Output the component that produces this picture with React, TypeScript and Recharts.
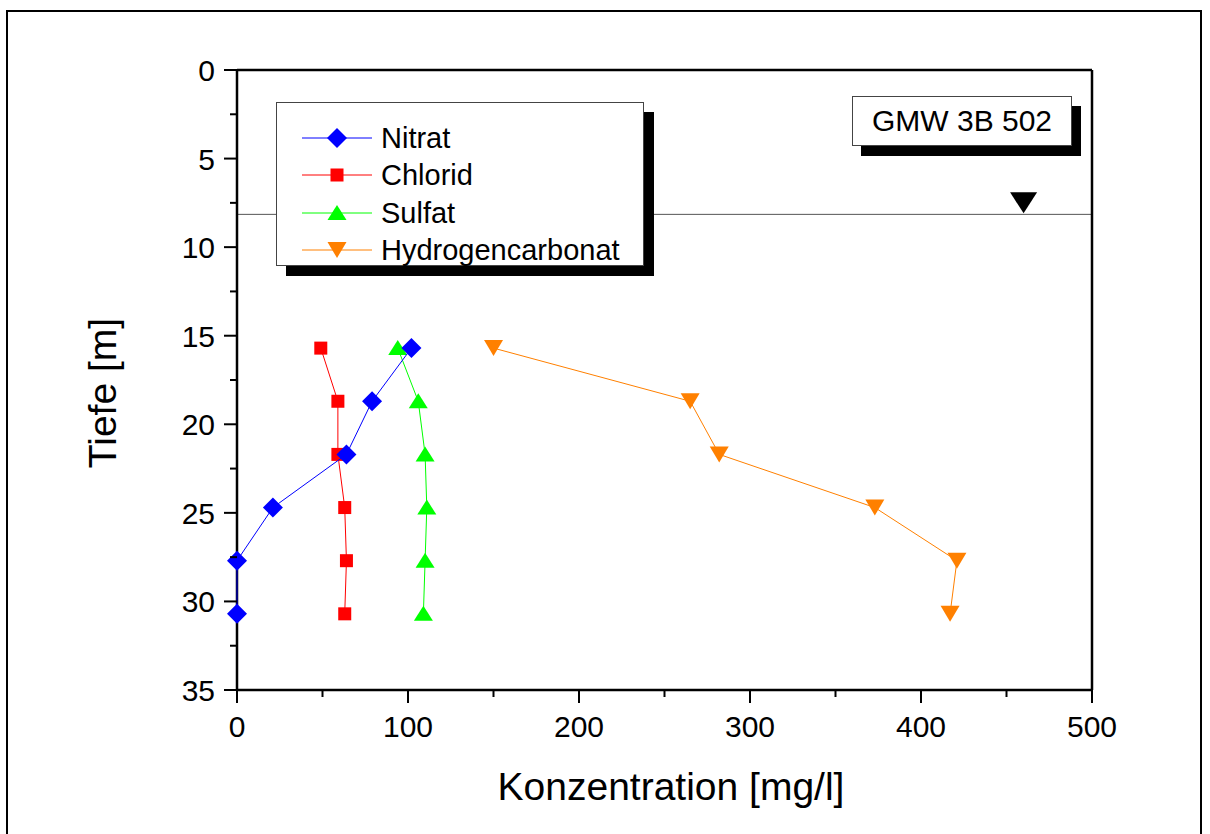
import React from 'react';
import { ScatterChart, Scatter, XAxis, YAxis, ReferenceLine, ReferenceDot } from 'recharts';

// depth of each sample [m] and concentrations [mg/l]
const depths = [15.7, 18.7, 21.7, 24.7, 27.7, 30.7];
const nitrat = [102, 79, 64, 21, 0, 0];
const chlorid = [49, 59, 59, 63, 64, 63];
const sulfat = [94, 106, 110, 111, 110, 109];
const hydrogencarbonat = [150, 265, 282, 373, 421, 417];

const xMajorTicks = [0, 100, 200, 300, 400, 500];
const xMinorTicks = [50, 150, 250, 350, 450];
const yMajorTicks = [0, 5, 10, 15, 20, 25, 30, 35];
const yMinorTicks = [2.5, 7.5, 12.5, 17.5, 22.5, 27.5, 32.5];

const waterLevel = 8.15;
const waterMarkX = 460;
const wellName = 'GMW 3B 502';

const FONT = '"Liberation Sans", Arial, Helvetica, sans-serif';

const series = [
  { name: 'Nitrat', values: nitrat, color: '#0000ff', marker: 'diamond' },
  { name: 'Chlorid', values: chlorid, color: '#ff0000', marker: 'square' },
  { name: 'Sulfat', values: sulfat, color: '#00ff00', marker: 'up' },
  { name: 'Hydrogencarbonat', values: hydrogencarbonat, color: '#ff8000', marker: 'down' },
];

const xTicks = [...xMajorTicks, ...xMinorTicks].sort((a, b) => a - b);
const yTicks = [...yMajorTicks, ...yMinorTicks].sort((a, b) => a - b);

const toPoints = (values: number[]) => values.map((v, i) => ({ x: v, y: depths[i] }));

function Marker({ kind, cx, cy, color }: { kind: string; cx: number; cy: number; color: string }) {
  if (cx == null || cy == null) return null;
  switch (kind) {
    case 'diamond':
      return <polygon points={`${cx},${cy - 10} ${cx + 10},${cy} ${cx},${cy + 10} ${cx - 10},${cy}`} fill={color} />;
    case 'square':
      return <rect x={cx - 6.5} y={cy - 6.5} width={13} height={13} fill={color} />;
    case 'up':
      return <polygon points={`${cx},${cy - 8} ${cx + 9.5},${cy + 7} ${cx - 9.5},${cy + 7}`} fill={color} />;
    default:
      return <polygon points={`${cx - 9.5},${cy - 8} ${cx + 9.5},${cy - 8} ${cx},${cy + 8}`} fill={color} />;
  }
}

const axisLine = { stroke: '#000', strokeWidth: 2.5 };

function LeftTick(props: any) {
  const { x, y, payload } = props;
  const major = yMajorTicks.includes(payload.value);
  return (
    <g>
      <line x1={x} x2={x - (major ? 13 : 7)} y1={y} y2={y} stroke="#000" strokeWidth={2} />
      {major && (
        <text x={x - 22} y={y + 11} textAnchor="end" fontSize={30} fontFamily={FONT} fill="#000">
          {payload.value}
        </text>
      )}
    </g>
  );
}

function RightTick(props: any) {
  const { x, y, payload } = props;
  const major = yMajorTicks.includes(payload.value);
  return <line x1={x} x2={x - (major ? 13 : 7)} y1={y} y2={y} stroke="#000" strokeWidth={2} />;
}

function BottomTick(props: any) {
  const { x, y, payload } = props;
  const major = xMajorTicks.includes(payload.value);
  return (
    <g>
      <line x1={x} x2={x} y1={y} y2={y + (major ? 13 : 7)} stroke="#000" strokeWidth={2} />
      {major && (
        <text x={x} y={y + 47} textAnchor="middle" fontSize={30} fontFamily={FONT} fill="#000">
          {payload.value}
        </text>
      )}
    </g>
  );
}

function TopTick(props: any) {
  const { x, y, payload } = props;
  const major = xMajorTicks.includes(payload.value);
  return <line x1={x} x2={x} y1={y} y2={y + (major ? 12 : 7)} stroke="#000" strokeWidth={2} />;
}

export default function App() {
  return (
    <div style={{ position: 'absolute', left: 0, top: 0, width: 1210, height: 834, overflow: 'hidden', background: '#fff', fontFamily: FONT }}>
      <div style={{ position: 'absolute', left: 6, top: 10, width: 1192, height: 900, border: '2px solid #000' }} />

      <div style={{ position: 'absolute', left: 0, top: 0 }}>
        <ScatterChart width={1210} height={834} margin={{ top: 69, right: 117, bottom: 143, left: 236 }}>
          <XAxis xAxisId="b" type="number" dataKey="x" domain={[0, 500]} ticks={xTicks} interval={0}
            height={1} tickSize={0} tickMargin={0} tickLine={false} axisLine={axisLine}
            tick={(p: any) => <BottomTick {...p} />} />
          <XAxis xAxisId="t" orientation="top" type="number" dataKey="x" domain={[0, 500]} ticks={xTicks} interval={0}
            height={1} tickSize={0} tickMargin={0} tickLine={false} axisLine={axisLine}
            tick={(p: any) => <TopTick {...p} />} />
          <YAxis yAxisId="l" type="number" dataKey="y" domain={[0, 35]} reversed ticks={yTicks} interval={0}
            width={1} tickSize={0} tickMargin={0} tickLine={false} axisLine={axisLine}
            tick={(p: any) => <LeftTick {...p} />} />
          <YAxis yAxisId="r" orientation="right" type="number" dataKey="y" domain={[0, 35]} reversed ticks={yTicks} interval={0}
            width={1} tickSize={0} tickMargin={0} tickLine={false} axisLine={axisLine}
            tick={(p: any) => <RightTick {...p} />} />

          <ReferenceLine xAxisId="b" yAxisId="l" y={waterLevel} stroke="#555" strokeWidth={1} />
          <ReferenceDot xAxisId="b" yAxisId="l" x={waterMarkX} y={waterLevel} ifOverflow="visible"
            shape={(p: any) => (
              <polygon points={`${p.cx - 13.5},${p.cy - 22} ${p.cx + 13.5},${p.cy - 22} ${p.cx},${p.cy - 1}`} fill="#000" />
            )} />

          {[...series].reverse().map((s) => (
            <Scatter
              key={s.name}
              name={s.name}
              xAxisId="b"
              yAxisId="l"
              data={toPoints(s.values)}
              fill={s.color}
              line={{ stroke: s.color, strokeWidth: 1 }}
              shape={(p: any) => <Marker kind={s.marker} cx={p.cx} cy={p.cy} color={s.color} />}
              isAnimationActive={false}
            />
          ))}
        </ScatterChart>
      </div>

      {/* legend */}
      <div style={{ position: 'absolute', left: 276, top: 102, width: 366, height: 162, border: '1px solid #444', background: '#fff', boxShadow: '10px 10px 0 #000' }}>
        {series.map((s, i) => (
          <div key={s.name} style={{ position: 'absolute', left: 0, top: 35 + i * 37.3 - 18, height: 36, width: 366 }}>
            <svg width={100} height={36} style={{ position: 'absolute', left: 0, top: 0 }}>
              <line x1={25} x2={95} y1={18} y2={18} stroke={s.color} strokeWidth={1} />
              <Marker kind={s.marker} cx={60} cy={18} color={s.color} />
            </svg>
            <span style={{ position: 'absolute', left: 104, top: 0, lineHeight: '36px', fontSize: 29, color: '#000', whiteSpace: 'nowrap' }}>
              {s.name}
            </span>
          </div>
        ))}
      </div>

      {/* well label */}
      <div style={{ position: 'absolute', left: 852, top: 96, width: 218, height: 48, border: '1px solid #444', background: '#fff', boxShadow: '9px 10px 0 #000', display: 'flex', alignItems: 'center', justifyContent: 'center', fontSize: 30, color: '#000' }}>
        {wellName}
      </div>

      {/* axis titles */}
      <div style={{ position: 'absolute', left: 102, top: 393, transform: 'translate(-50%, -50%) rotate(-90deg)', fontSize: 39, lineHeight: 1, whiteSpace: 'nowrap', color: '#000' }}>
        Tiefe [m]
      </div>
      <div style={{ position: 'absolute', left: 671, top: 786, transform: 'translate(-50%, -50%)', fontSize: 39, lineHeight: 1, whiteSpace: 'nowrap', color: '#000' }}>
        Konzentration [mg/l]
      </div>
    </div>
  );
}
